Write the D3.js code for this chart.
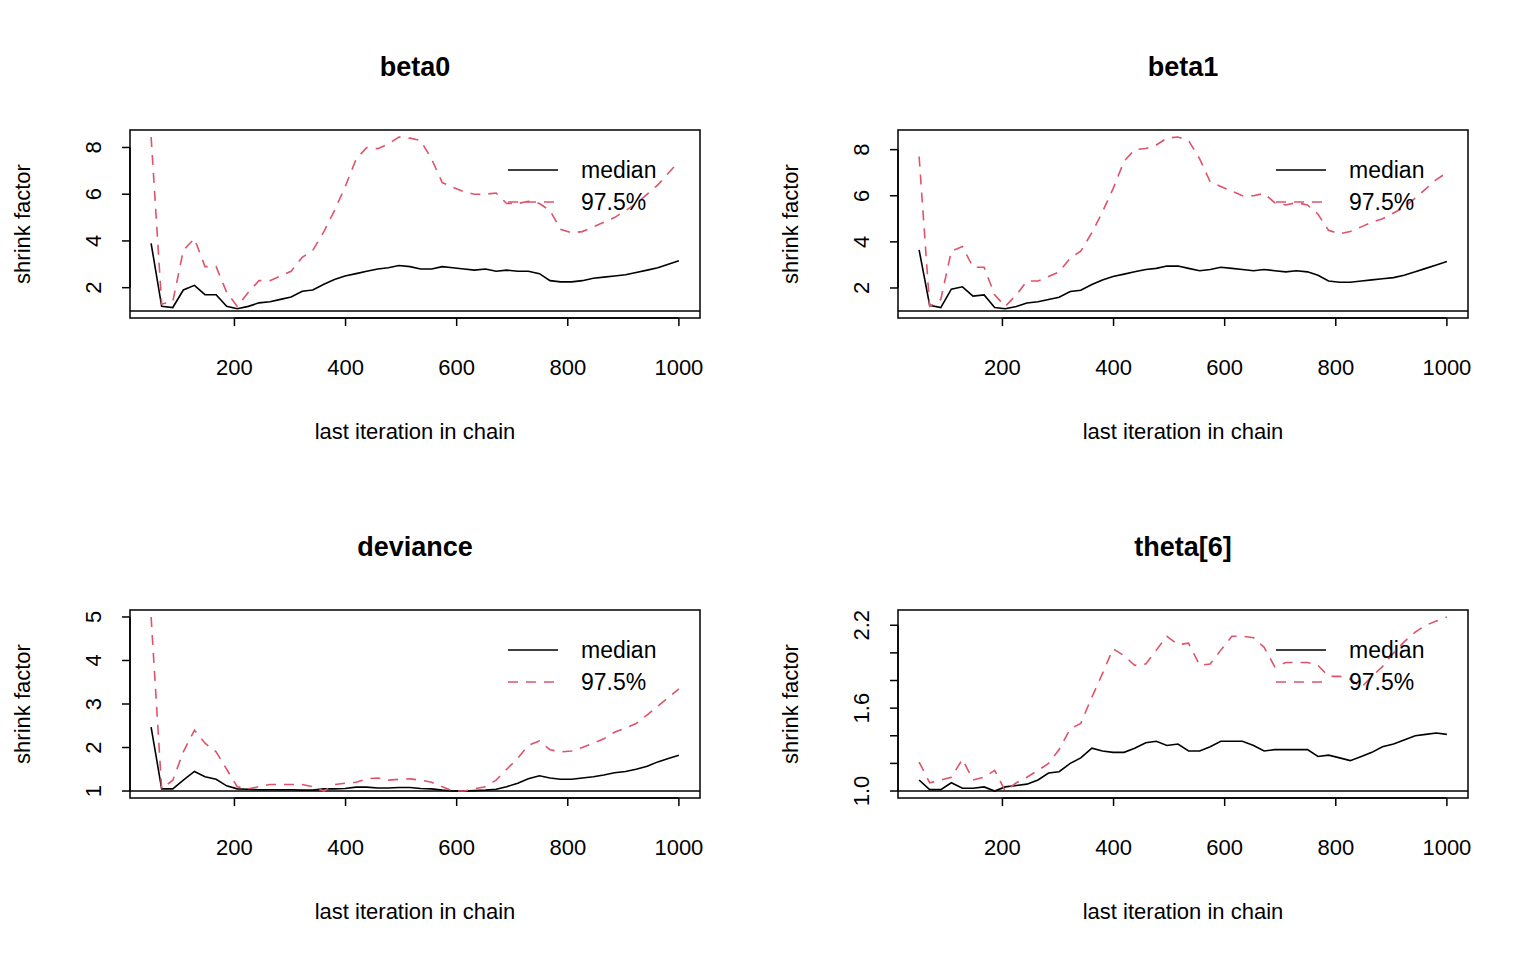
<!DOCTYPE html>
<html><head><meta charset="utf-8">
<script src="https://cdn.jsdelivr.net/npm/d3@7"></script>
<style>body{margin:0;background:#fff}svg{font-family:Arial,"Liberation Sans",sans-serif}</style>
</head><body><svg id="c" width="1536" height="960"></svg>
<script>
const iterations = [50,69,89,108,128,147,167,186,205,225,244,264,283,302,322,341,361,380,399,419,438,458,477,496,516,535,555,574,593,613,632,652,671,690,710,729,749,768,787,807,826,846,865,884,904,923,943,962,981,1000];

const beta0Median = [3.9,1.2,1.15,1.9,2.1,1.7,1.7,1.2,1.1,1.2,1.35,1.4,1.5,1.6,1.85,1.9,2.15,2.35,2.5,2.6,2.7,2.8,2.85,2.95,2.9,2.8,2.8,2.9,2.85,2.8,2.75,2.8,2.7,2.75,2.7,2.7,2.6,2.3,2.25,2.25,2.3,2.4,2.45,2.5,2.55,2.65,2.75,2.85,3.0,3.15];
const beta0Upper = [8.45,1.3,1.4,3.6,4.1,2.9,2.9,1.8,1.2,1.8,2.3,2.3,2.5,2.7,3.3,3.6,4.4,5.3,6.3,7.5,8.0,7.95,8.15,8.45,8.4,8.3,7.5,6.5,6.3,6.1,6.0,6.0,6.05,5.6,5.6,5.7,5.6,5.3,4.5,4.35,4.4,4.6,4.8,5.0,5.3,5.6,6.0,6.4,6.9,7.4];
const beta1Median = [3.65,1.25,1.15,1.95,2.05,1.65,1.7,1.15,1.1,1.2,1.35,1.4,1.5,1.6,1.85,1.9,2.15,2.35,2.5,2.6,2.7,2.8,2.85,2.95,2.95,2.85,2.75,2.8,2.9,2.85,2.8,2.75,2.8,2.75,2.7,2.75,2.7,2.55,2.3,2.25,2.25,2.3,2.35,2.4,2.45,2.55,2.7,2.85,3.0,3.15];
const beta1Upper = [7.7,1.2,1.5,3.6,3.8,2.9,2.9,1.7,1.2,1.7,2.3,2.3,2.5,2.7,3.3,3.6,4.4,5.3,6.3,7.5,8.0,8.05,8.2,8.5,8.55,8.4,7.6,6.6,6.4,6.2,6.0,6.0,6.1,5.7,5.6,5.7,5.6,5.2,4.5,4.35,4.45,4.65,4.85,5.0,5.25,5.5,5.9,6.3,6.7,7.0];
const devianceMedian = [2.47,1.05,1.05,1.25,1.45,1.33,1.27,1.12,1.05,1.04,1.03,1.03,1.03,1.03,1.02,1.02,1.05,1.05,1.06,1.09,1.09,1.07,1.07,1.08,1.08,1.06,1.05,1.02,1.0,1.0,1.01,1.02,1.04,1.1,1.18,1.28,1.35,1.3,1.27,1.27,1.3,1.33,1.37,1.42,1.45,1.5,1.57,1.67,1.75,1.82];
const devianceUpper = [5.0,1.05,1.25,1.9,2.4,2.1,1.9,1.5,1.1,1.05,1.1,1.15,1.15,1.15,1.15,1.1,1.0,1.15,1.18,1.2,1.28,1.3,1.25,1.27,1.28,1.25,1.2,1.1,1.0,1.0,1.05,1.1,1.25,1.5,1.75,2.05,2.15,1.95,1.9,1.92,2.0,2.1,2.2,2.35,2.45,2.55,2.75,2.95,3.15,3.35];
const thetaMedian = [1.08,1.01,1.01,1.06,1.02,1.02,1.03,1.0,1.03,1.04,1.05,1.08,1.13,1.14,1.2,1.24,1.31,1.29,1.28,1.28,1.31,1.35,1.36,1.33,1.34,1.29,1.29,1.32,1.36,1.36,1.36,1.33,1.29,1.3,1.3,1.3,1.3,1.25,1.26,1.24,1.22,1.25,1.28,1.32,1.34,1.37,1.4,1.41,1.42,1.41];
const thetaUpper = [1.21,1.06,1.08,1.1,1.23,1.08,1.1,1.15,1.0,1.06,1.1,1.15,1.2,1.3,1.45,1.49,1.68,1.85,2.03,1.98,1.91,1.92,2.02,2.12,2.06,2.07,1.91,1.92,2.02,2.12,2.12,2.11,2.04,1.9,1.93,1.93,1.93,1.91,1.83,1.83,1.81,1.75,1.83,1.9,2.0,2.08,2.15,2.2,2.23,2.26];

const xTicks = [200,400,600,800,1000];
const panels = [
  {title:"beta0", med:beta0Median, up:beta0Upper, ticks:[2,4,6,8], labels:[2,4,6,8]},
  {title:"beta1", med:beta1Median, up:beta1Upper, ticks:[2,4,6,8], labels:[2,4,6,8]},
  {title:"deviance", med:devianceMedian, up:devianceUpper, ticks:[1,2,3,4,5], labels:[1,2,3,4,5]},
  {title:"theta[6]", med:thetaMedian, up:thetaUpper, ticks:[1.0,1.2,1.4,1.6,1.8,2.0,2.2], labels:[1.0,1.6,2.2]}
];
const red = "#df536b";

const svg = d3.select("#c");
const W = 570, H = 188;

panels.forEach((p,k) => {
  const left = 130 + (k%2)*768, top = 130 + Math.floor(k/2)*480;
  const g = svg.append("g").attr("transform",`translate(${left},${top})`);
  const pad = v => [v[0]-(v[1]-v[0])*0.04, v[1]+(v[1]-v[0])*0.04];
  const x = d3.scaleLinear().domain(pad([50,1000])).range([0,W]);
  const ymax = d3.max(p.up.concat(p.med));
  const y = d3.scaleLinear().domain(pad([1,ymax])).range([H,0]);

  g.append("rect").attr("width",W).attr("height",H).attr("fill","none").attr("stroke","#000").attr("stroke-width",1.5);
  g.append("line").attr("x1",0).attr("x2",W).attr("y1",y(1)).attr("y2",y(1)).attr("stroke","#000").attr("stroke-width",1.5);

  const line = d3.line().x((d,i)=>x(iterations[i])).y(d=>y(d));
  g.append("path").attr("d",line(p.med)).attr("fill","none").attr("stroke","#000").attr("stroke-width",1.6);
  g.append("path").attr("d",line(p.up)).attr("fill","none").attr("stroke",red).attr("stroke-width",1.6).attr("stroke-dasharray","10,8");

  // x axis
  const xa = g.append("g").attr("transform",`translate(0,${H})`);
  xa.append("line").attr("x1",x(200)).attr("x2",x(1000)).attr("stroke","#000").attr("stroke-width",1.5);
  xTicks.forEach(t=>{
    xa.append("line").attr("x1",x(t)).attr("x2",x(t)).attr("y2",8).attr("stroke","#000").attr("stroke-width",1.5);
    xa.append("text").attr("x",x(t)).attr("y",57).attr("text-anchor","middle").attr("font-size",22).text(t);
  });
  // y axis
  const ya = g.append("g");
  ya.append("line").attr("y1",y(p.ticks[0])).attr("y2",y(p.ticks[p.ticks.length-1])).attr("stroke","#000").attr("stroke-width",1.5);
  p.ticks.forEach(t=>ya.append("line").attr("x1",0).attr("x2",-8).attr("y1",y(t)).attr("y2",y(t)).attr("stroke","#000").attr("stroke-width",1.5));
  p.labels.forEach(t=>ya.append("text").attr("transform",`translate(-37,${y(t)}) rotate(-90)`)
    .attr("text-anchor","middle").attr("dy","0.35em").attr("font-size",22).text(p.title==="theta[6]"?d3.format(".1f")(t):t));

  g.append("text").attr("x",W/2).attr("y",-54).attr("text-anchor","middle").attr("font-size",27).attr("font-weight","bold").text(p.title);
  g.append("text").attr("x",W/2).attr("y",H+121).attr("text-anchor","middle").attr("font-size",22).text("last iteration in chain");
  g.append("text").attr("transform",`translate(-108,${H/2}) rotate(-90)`).attr("text-anchor","middle").attr("dy","0.35em").attr("font-size",22).text("shrink factor");

  // legend
  const lg = g.append("g").attr("transform",`translate(${W-192},40)`);
  lg.append("line").attr("x1",0).attr("x2",50).attr("stroke","#000").attr("stroke-width",1.6);
  lg.append("line").attr("x1",0).attr("x2",50).attr("y1",32).attr("y2",32).attr("stroke",red).attr("stroke-width",1.6).attr("stroke-dasharray","10,8");
  lg.append("text").attr("x",73).attr("dy","0.35em").attr("font-size",23).text("median");
  lg.append("text").attr("x",73).attr("y",32).attr("dy","0.35em").attr("font-size",23).text("97.5%");
});
</script></body></html>
